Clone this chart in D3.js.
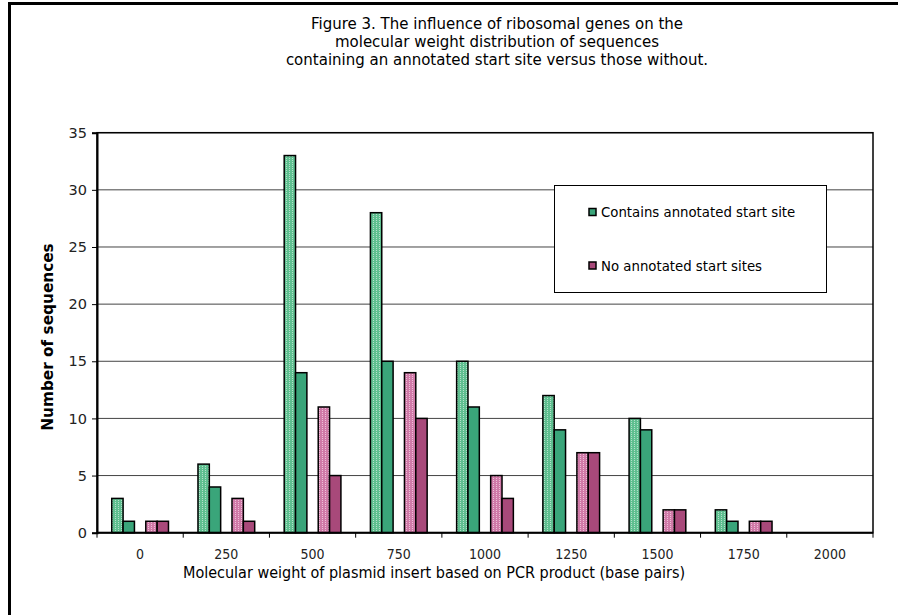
<!DOCTYPE html>
<html>
<head>
<meta charset="utf-8">
<script src="https://cdn.jsdelivr.net/npm/d3@7"></script>
<style>
  html, body { margin: 0; padding: 0; background: #fff; }
  svg { display: block; }
</style>
</head>
<body>
<svg id="chart" width="898" height="615"></svg>
<script>
// ---- data ----
const categories = ["0", "250", "500", "750", "1000", "1250", "1500", "1750", "2000"];
// green: contains annotated start site (patterned = light, solid = dark)
const containsLight = [3, 6, 33, 28, 15, 12, 10, 2, 0];
const containsDark  = [1, 4, 14, 15, 11, 9, 9, 1, 0];
// pink: no annotated start sites
const noneLight = [1, 3, 11, 14, 5, 7, 2, 1, 0];
const noneDark  = [1, 1, 5, 10, 3, 7, 2, 1, 0];
const yTicks = [0, 5, 10, 15, 20, 25, 30, 35];
const titleLines = [
  "Figure 3. The influence of ribosomal genes on the",
  "molecular weight distribution of sequences",
  "containing an annotated start site versus those without."
];
const legendLabels = ["Contains annotated start site", "No annotated start sites"];
const xTitle = "Molecular weight of plasmid insert based on PCR product (base pairs)";
const yTitle = "Number of sequences";

const series = [
  { key: "cl", values: containsLight, fill: "url(#patGreen)" },
  { key: "cd", values: containsDark,  fill: "#3aa57a" },
  { key: "gap", values: null },
  { key: "nl", values: noneLight, fill: "url(#patPink)" },
  { key: "nd", values: noneDark,  fill: "#a8497a" }
];

const svg = d3.select("#chart");
const plot = { left: 97, right: 873, top: 132.7, bottom: 532.7 };
const sans = "'DejaVu Sans', Verdana, sans-serif";
const cond = "'DejaVu Sans Condensed', 'Liberation Sans Narrow', sans-serif";

// patterns
const defs = svg.append("defs");
function makePattern(id, base, dot) {
  const p = defs.append("pattern").attr("id", id).attr("patternUnits", "userSpaceOnUse")
    .attr("width", 3).attr("height", 2);
  p.append("rect").attr("width", 3).attr("height", 2).attr("fill", base);
  p.append("rect").attr("x", 1).attr("y", 0).attr("width", 1).attr("height", 1).attr("fill", dot);
}
makePattern("patGreen", "#5fbf90", "#b4e1ca");
makePattern("patPink", "#d07aa8", "#eebfd8");

// outer border (cropped chart area)
svg.append("rect").attr("x", 9.5).attr("y", 3.5).attr("width", 1000).attr("height", 1000)
  .attr("fill", "none").attr("stroke", "#000").attr("stroke-width", 3);

// title
const title = svg.append("text").attr("font-family", sans)
  .attr("font-size", 15).attr("fill", "#000").attr("text-anchor", "middle");
titleLines.forEach((t, i) => {
  title.append("tspan").attr("x", 497).attr("y", 29 + i * 18).text(t);
});

// scales
const x = d3.scaleBand().domain(categories).range([plot.left, plot.right]).padding(0);
const xs = d3.scaleBand().domain(series.map(s => s.key)).range([0, x.bandwidth()])
  .paddingInner(0).paddingOuter(1.3);
const y = d3.scaleLinear().domain([0, 35]).range([plot.bottom, plot.top]);

// gridlines
svg.append("g").selectAll("line").data(yTicks.filter(d => d > 0)).join("line")
  .attr("x1", plot.left).attr("x2", plot.right)
  .attr("y1", d => y(d)).attr("y2", d => y(d))
  .attr("stroke", "#444").attr("stroke-width", 1);

// plot area border
svg.append("rect").attr("x", plot.left).attr("y", plot.top)
  .attr("width", plot.right - plot.left).attr("height", plot.bottom - plot.top)
  .attr("fill", "none").attr("stroke", "#000").attr("stroke-width", 1.5);

// bars
const gBars = svg.append("g");
series.filter(s => s.values).forEach(s => {
  gBars.append("g").selectAll("rect").data(s.values.map((v, i) => ({ v, c: categories[i] })).filter(d => d.v > 0))
    .join("rect")
    .attr("x", d => x(d.c) + xs(s.key))
    .attr("y", d => y(d.v))
    .attr("width", xs.bandwidth())
    .attr("height", d => y(0) - y(d.v))
    .attr("fill", s.fill)
    .attr("stroke", "#000").attr("stroke-width", 1.5);
});

// y axis
const yAxis = d3.axisLeft(y).tickValues(yTicks).tickSize(5).tickPadding(5);
const gy = svg.append("g").attr("transform", `translate(${plot.left},0)`).call(yAxis);
gy.select(".domain").attr("stroke", "#000").attr("stroke-width", 2);
gy.selectAll(".tick line").attr("stroke", "#000");
gy.selectAll("text").attr("font-family", sans).attr("font-size", 14.5).attr("fill", "#222");

// x axis: ticks at category boundaries, labels at centers
const gx = svg.append("g").attr("transform", `translate(0,${plot.bottom})`);
gx.append("line").attr("x1", plot.left).attr("x2", plot.right).attr("y1", 0).attr("y2", 0)
  .attr("stroke", "#000").attr("stroke-width", 2);
const bounds = categories.map(c => x(c)).concat([plot.right]);
gx.selectAll("line.tk").data(bounds).join("line").attr("class", "tk")
  .attr("x1", d => d).attr("x2", d => d).attr("y1", 0).attr("y2", 5).attr("stroke", "#000");
gx.selectAll("text").data(categories).join("text")
  .attr("x", d => x(d) + x.bandwidth() / 2).attr("y", 26)
  .attr("text-anchor", "middle")
  .attr("font-family", cond).attr("font-size", 14)
  .attr("fill", "#222").text(d => d);

// axis titles
svg.append("text").attr("x", 434).attr("y", 578).attr("text-anchor", "middle")
  .attr("font-family", cond).attr("font-size", 16)
  .attr("fill", "#000").text(xTitle);
svg.append("text").attr("transform", "translate(53,337) rotate(-90)").attr("text-anchor", "middle")
  .attr("font-family", sans).attr("font-size", 15.3).attr("font-weight", "bold")
  .attr("fill", "#000").text(yTitle);

// legend
const lg = svg.append("g");
lg.append("rect").attr("x", 554.5).attr("y", 185.5).attr("width", 272).attr("height", 107)
  .attr("fill", "#fff").attr("stroke", "#000").attr("stroke-width", 1);
const legendFills = ["#3aa57a", "#a8497a"];
legendLabels.forEach((l, i) => {
  const cy = 212 + i * 53.5;
  lg.append("rect").attr("x", 589).attr("y", cy - 3.5).attr("width", 7).attr("height", 7)
    .attr("fill", legendFills[i]).attr("stroke", "#000").attr("stroke-width", 1.5);
  lg.append("text").attr("x", 601).attr("y", cy + 5)
    .attr("font-family", sans).attr("font-size", 13.3)
    .attr("fill", "#000").text(l);
});
</script>
</body>
</html>
